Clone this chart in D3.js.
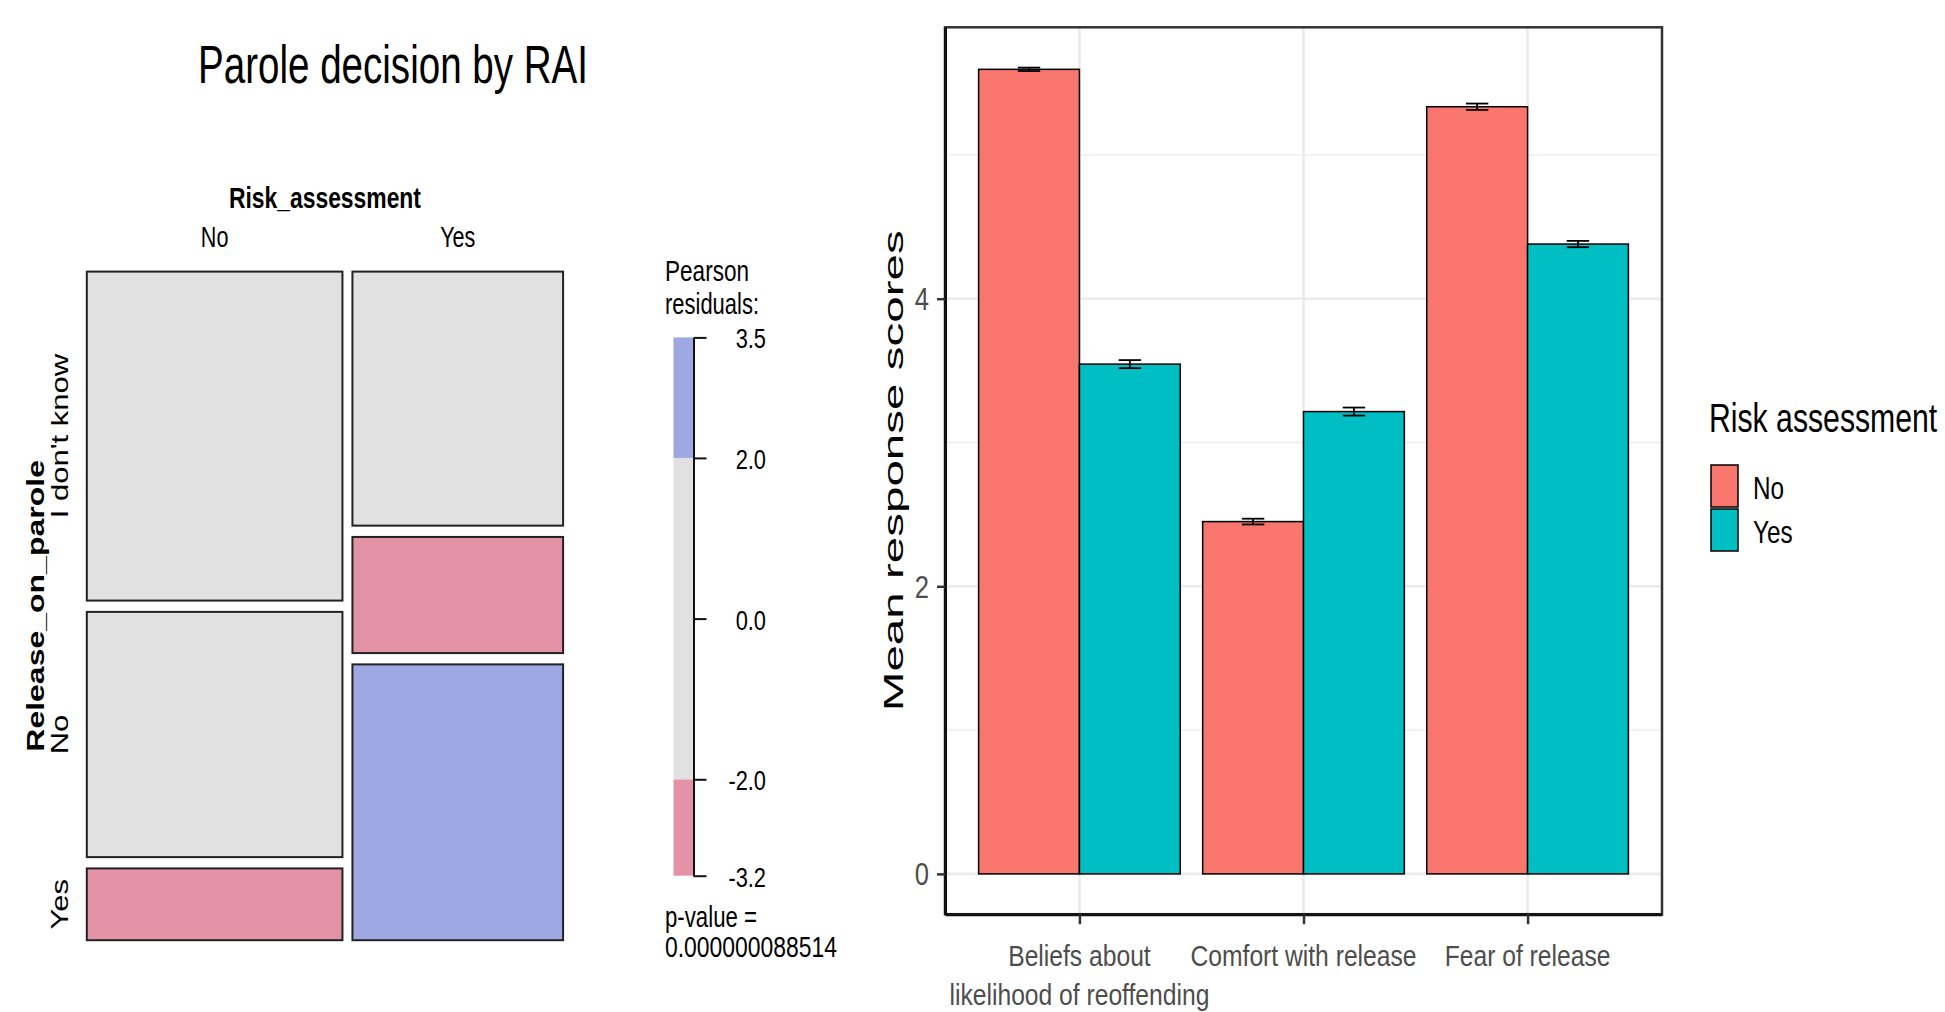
<!DOCTYPE html>
<html>
<head>
<meta charset="utf-8">
<script src="https://cdn.jsdelivr.net/npm/d3@7"></script>
<style>
  body { margin: 0; background: #fff; }
  text { font-family: "Liberation Sans", Arial, sans-serif; }
</style>
</head>
<body>
<svg id="chart" width="1945" height="1012"></svg>
<script>
// ---- mosaic plot: Release_on_parole by Risk_assessment
const riskLevels = ["No", "Yes"]
const releaseLevels = ["I don't know", "No", "Yes"]
// counts per risk level (column), one per release answer (row)
const counts = [[55, 41, 12], [35, 16, 38]]
const residuals = [[1.3, 1.2, -3.2], [-1.4, -2.3, 3.5]]
const residualBreaks = [-3.2, -2.0, 2.0, 3.5]
const residualTicks = [3.5, 2.0, 0.0, -2.0, -3.2]
const pValue = "0.000000088514"

// ---- bar chart: mean response scores by risk assessment
const scaleNames = ["Beliefs about|likelihood of reoffending", "Comfort with release", "Fear of release"]
const groups = ["No", "Yes"]
const meanNo = [5.595, 2.45, 5.335]
const meanYes = [3.545, 3.215, 4.38]
const seNo = [0.012, 0.02, 0.022]
const seYes = [0.028, 0.028, 0.022]
const yTicks = [0, 2, 4]
const yMinor = [1, 3, 5]

const svg = d3.select("#chart")

// plain text; squeeze narrows the glyphs, width forces an exact length
function label(g, str, x, y, o = {}) {
  const t = g.append("text")
    .attr("transform", `translate(${x},${y}) scale(${o.squeeze || 1},1)`)
    .attr("font-size", o.size || 28)
    .attr("text-anchor", o.anchor || "start")
    .attr("font-weight", o.weight || "normal")
    .attr("fill", o.fill || "#000")
    .text(str)
  if (o.width) t.attr("textLength", o.width).attr("lengthAdjust", "spacingAndGlyphs")
  return t
}
// text reading bottom to top, x is the baseline, y the centre
function vlabel(g, str, x, y, o = {}) {
  const t = g.append("text")
    .attr("transform", `translate(${x},${y}) rotate(-90) scale(1,${o.squeeze || 0.75})`)
    .attr("font-size", o.size || 30)
    .attr("text-anchor", "middle")
    .attr("font-weight", o.weight || "normal")
    .attr("fill", o.fill || "#000")
    .text(str)
  if (o.width) t.attr("textLength", o.width).attr("lengthAdjust", "spacingAndGlyphs")
  return t
}

// ================= left: mosaic =================
const mos = {left: 86.8, right: 563.1, top: 271.6, bottom: 940.2, gapX: 10, gapY: 11.3}
const left = svg.append("g")

label(left, "Parole decision by RAI", 393, 83, {size: 53, anchor: "middle", width: 390})
label(left, "Risk_assessment", (mos.left + mos.right) / 2, 208, {size: 30, anchor: "middle", weight: "bold", width: 192})

const colTotals = counts.map(c => d3.sum(c))
const colW = d3.scaleLinear().domain([0, d3.sum(colTotals)])
  .range([0, mos.right - mos.left - mos.gapX * (riskLevels.length - 1)])
const shade = d3.scaleThreshold().domain([-2, 2]).range(["#E393A5", "#E1E1E1", "#9EA8E2"])

let cx = mos.left
const cells = []
riskLevels.forEach((risk, i) => {
  const w = colW(colTotals[i])
  const rowH = d3.scaleLinear().domain([0, colTotals[i]])
    .range([0, mos.bottom - mos.top - mos.gapY * (releaseLevels.length - 1)])
  let cy = mos.top
  releaseLevels.forEach((rel, j) => {
    const h = rowH(counts[i][j])
    cells.push({i, j, x: cx, y: cy, w, h, r: residuals[i][j]})
    cy += h + mos.gapY
  })
  label(left, risk, cx + w / 2, 247, {size: 30, anchor: "middle", squeeze: 0.72})
  cx += w + mos.gapX
})

left.append("g").selectAll("rect").data(cells).join("rect")
  .attr("x", d => d.x).attr("y", d => d.y)
  .attr("width", d => d.w).attr("height", d => d.h)
  .attr("fill", d => shade(d.r))
  .attr("stroke", "#222").attr("stroke-width", 2)

// row labels follow the first column
cells.filter(d => d.i === 0).forEach(d => {
  vlabel(left, releaseLevels[d.j], 68, d.y + d.h / 2, {size: 31, squeeze: 0.75})
})
vlabel(left, "Release_on_parole", 44, (mos.top + mos.bottom) / 2, {size: 32, weight: "bold", squeeze: 0.72})

// residual legend
const bar = {x: 673.5, w: 20, top: 337.4, bottom: 875.7}
const resY = d3.scaleLinear().domain([residualBreaks[0], residualBreaks[residualBreaks.length - 1]])
  .range([bar.bottom, bar.top])
label(left, "Pearson", 665, 281, {size: 29, width: 84})
label(left, "residuals:", 665, 314, {size: 29, width: 94})
left.append("g").selectAll("rect").data(d3.pairs(residualBreaks)).join("rect")
  .attr("x", bar.x).attr("width", bar.w)
  .attr("y", d => resY(d[1])).attr("height", d => resY(d[0]) - resY(d[1]))
  .attr("fill", d => shade((d[0] + d[1]) / 2))
const resAxis = left.append("g")
  .attr("transform", `translate(${bar.x + bar.w},0)`)
  .call(d3.axisRight(resY).tickValues(residualTicks).tickSize(13).tickSizeOuter(0).tickFormat(d => d.toFixed(1)))
resAxis.select(".domain").attr("stroke", "#111").attr("stroke-width", 2)
resAxis.selectAll(".tick line").attr("stroke", "#111").attr("stroke-width", 2)
resAxis.selectAll(".tick text").remove()
residualTicks.forEach(v => {
  label(left, v.toFixed(1), 766, resY(v) + 11, {size: 28, anchor: "end", squeeze: 0.78})
})
label(left, "p-value =", 665, 927, {size: 29, width: 92})
label(left, pValue, 665, 957, {size: 29, width: 172})

// ================= right: bar chart =================
const panel = {left: 945, right: 1662, top: 27.3, bottom: 914.2}
const right = svg.append("g")

const x = d3.scalePoint().domain(scaleNames).range([panel.left, panel.right]).padding(0.6)
const step = x.step()
const tops = meanNo.map((m, i) => m + seNo[i]).concat(meanYes.map((m, i) => m + seYes[i]))
const yMax = d3.max(tops)
const y = d3.scaleLinear().domain([-0.05 * yMax, 1.05 * yMax]).range([panel.bottom, panel.top])
const fill = d3.scaleOrdinal().domain(groups).range(["#F8766D", "#00BFC4"])

// grid
const grid = right.append("g")
grid.selectAll(".minor").data(yMinor).join("line")
  .attr("x1", panel.left).attr("x2", panel.right)
  .attr("y1", d => y(d)).attr("y2", d => y(d))
  .attr("stroke", "#EBEBEB").attr("stroke-width", 1.3)
grid.selectAll(".major").data(yTicks).join("line")
  .attr("x1", panel.left).attr("x2", panel.right)
  .attr("y1", d => y(d)).attr("y2", d => y(d))
  .attr("stroke", "#EBEBEB").attr("stroke-width", 2.6)
grid.selectAll(".vmajor").data(scaleNames).join("line")
  .attr("x1", d => x(d)).attr("x2", d => x(d))
  .attr("y1", panel.top).attr("y2", panel.bottom)
  .attr("stroke", "#EBEBEB").attr("stroke-width", 2.6)

// bars
const barData = []
scaleNames.forEach((s, i) => {
  barData.push({s, g: "No", m: meanNo[i], se: seNo[i], off: -0.45})
  barData.push({s, g: "Yes", m: meanYes[i], se: seYes[i], off: 0})
})
right.append("g").selectAll("rect").data(barData).join("rect")
  .attr("x", d => x(d.s) + d.off * step)
  .attr("width", 0.45 * step)
  .attr("y", d => y(d.m))
  .attr("height", d => y(0) - y(d.m))
  .attr("fill", d => fill(d.g))
  .attr("stroke", "#000").attr("stroke-width", 1.5)

// error bars
const eb = right.append("g").attr("stroke", "#000").attr("stroke-width", 1.8)
barData.forEach(d => {
  const c = x(d.s) + (d.off + 0.225) * step
  const hw = 0.05 * step
  eb.append("line").attr("x1", c).attr("x2", c).attr("y1", y(d.m - d.se)).attr("y2", y(d.m + d.se))
  eb.append("line").attr("x1", c - hw).attr("x2", c + hw).attr("y1", y(d.m + d.se)).attr("y2", y(d.m + d.se))
  eb.append("line").attr("x1", c - hw).attr("x2", c + hw).attr("y1", y(d.m - d.se)).attr("y2", y(d.m - d.se))
})

// panel border and axes
right.append("rect")
  .attr("x", panel.left).attr("y", panel.top)
  .attr("width", panel.right - panel.left).attr("height", panel.bottom - panel.top)
  .attr("fill", "none").attr("stroke", "#333").attr("stroke-width", 2.5)

const yAxis = right.append("g").attr("transform", `translate(${panel.left},0)`)
  .call(d3.axisLeft(y).tickValues(yTicks).tickSize(8).tickSizeOuter(0))
yAxis.select(".domain").attr("stroke", "#111").attr("stroke-width", 3)
yAxis.selectAll(".tick line").attr("stroke", "#333").attr("stroke-width", 2.5)
yAxis.selectAll(".tick text").remove()
yTicks.forEach(v => label(right, String(v), 929, y(v) + 11.5, {size: 32, anchor: "end", fill: "#4D4D4D", squeeze: 0.8}))

const xAxis = right.append("g").attr("transform", `translate(0,${panel.bottom})`)
  .call(d3.axisBottom(x).tickSize(10).tickSizeOuter(0))
xAxis.select(".domain").attr("stroke", "#111").attr("stroke-width", 3)
xAxis.selectAll(".tick line").attr("stroke", "#333").attr("stroke-width", 2.5)
xAxis.selectAll(".tick text").remove()
scaleNames.forEach(s => {
  s.split("|").forEach((line, k) => {
    label(right, line, x(s), 966 + k * 39, {size: 29, anchor: "middle", fill: "#4D4D4D", squeeze: 0.85})
  })
})

vlabel(right, "Mean response scores", 903, (panel.top + panel.bottom) / 2, {size: 44, squeeze: 0.64, width: 481})

// legend
label(right, "Risk assessment", 1709, 432, {size: 40, squeeze: 0.755})
groups.forEach((g, k) => {
  const ky = 465 + k * 44
  right.append("rect").attr("x", 1711).attr("y", ky).attr("width", 27).attr("height", 42)
    .attr("fill", fill(g)).attr("stroke", "#000").attr("stroke-width", 1.5)
  label(right, g, 1753, ky + 34, {size: 32, squeeze: 0.76})
})
</script>
</body>
</html>
